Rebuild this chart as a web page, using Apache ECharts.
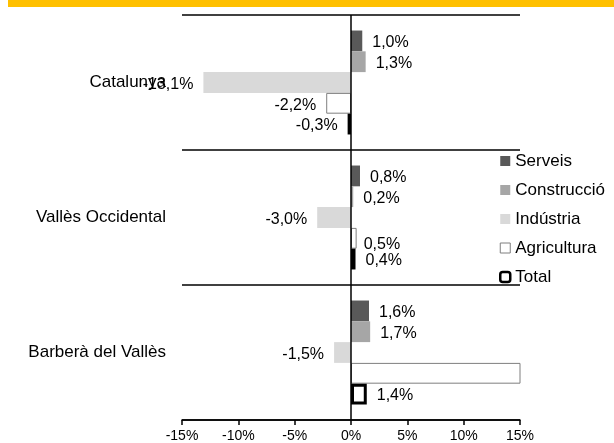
<!DOCTYPE html>
<html>
<head>
<meta charset="utf-8">
<script src="https://cdn.jsdelivr.net/npm/echarts@6/dist/echarts.min.js"></script>
<style>
  html, body { margin: 0; padding: 0; background: #fff; }
  #chartRoot { width: 614px; height: 443px; }
</style>
</head>
<body>
<div id="chartRoot"></div>
<script>
const regions = ["Catalunya", "Vallès Occidental", "Barberà del Vallès"];
const sectors = ["Serveis", "Construcció", "Indústria", "Agricultura", "Total"];
// variació (%) per sector, en l'ordre de regions
const serveis = [1.0, 0.8, 1.6];
const construccio = [1.3, 0.2, 1.7];
const industria = [-13.1, -3.0, -1.5];
const agricultura = [-2.2, 0.5, 24.0]; // Barberà queda fora d'escala
const total = [-0.3, 0.4, 1.4];
const xTicks = [-15, -10, -5, 0, 5, 10, 15];

const sectorValues = [serveis, construccio, industria, agricultura, total];
const sectorStyles = [
  { color: "#595959" },
  { color: "#a6a6a6" },
  { color: "#d9d9d9" },
  { color: "#ffffff", borderColor: "#7f7f7f", borderWidth: 1 },
  { color: "#ffffff", borderColor: "#000000", borderWidth: 3 },
];

const fmt = (v) => v.toFixed(1).replace(".", ",") + "%";
const xMin = xTicks[0];
const xMax = xTicks[xTicks.length - 1];

const chartDom = document.getElementById("chartRoot");
const myChart = echarts.init(chartDom, null, { renderer: "canvas" });

const series = sectors.map((name, i) => {
  const data = sectorValues[i].map((v, j) => {
    const item = {
      value: v,
      label: { position: v < 0 ? "left" : "right" },
    };
    if (v > xMax || v < xMin) {
      item.label.show = false;
    }
    // etiqueta desplaçada per no trepitjar la del total (Vallès)
    if (i === 3 && j === 1) {
      item.label.offset = [-3, 6];
    }
    return item;
  });
  const s = {
    name: name,
    type: "bar",
    barGap: "0%",
    barCategoryGap: "23%",
    data: data,
    itemStyle: sectorStyles[i],
    label: {
      show: true,
      distance: 10,
      offset: [0, 2],
      color: "#000",
      fontSize: 16,
      formatter: (p) => fmt(p.value),
    },
    emphasis: { disabled: true },
  };
  if (i === sectors.length - 1) {
    // línia vertical del zero
    s.markLine = {
      silent: true,
      symbol: "none",
      label: { show: false },
      lineStyle: { color: "#000", type: "solid", width: 1.5 },
      data: [{ xAxis: 0 }],
    };
  }
  return s;
});

const option = {
  animation: false,
  backgroundColor: "#fff",
  textStyle: { fontFamily: "Liberation Sans, Arial, sans-serif" },
  graphic: [
    {
      type: "rect",
      shape: { x: 8, y: 0, width: 606, height: 7 },
      style: { fill: "#ffc000" },
      silent: true,
    },
  ],
  grid: {
    left: 182,
    right: 94,
    top: 15,
    bottom: 23,
    containLabel: false,
  },
  legend: {
    orient: "vertical",
    left: 499,
    top: 152,
    padding: 0,
    itemGap: 11,
    itemWidth: 10,
    itemHeight: 10,
    icon: "rect",
    textStyle: { fontSize: 17, color: "#000", lineHeight: 18 },
    data: sectors.map((name, i) => ({
      name: name,
      icon: i === 4 ? "roundRect" : "rect",
      itemStyle: Object.assign({ borderWidth: 0 }, sectorStyles[i], i === 4 ? { borderWidth: 2.5 } : {}),
    })),
  },
  xAxis: {
    type: "value",
    min: xMin,
    max: xMax,
    interval: xTicks[1] - xTicks[0],
    axisLine: { show: true, lineStyle: { color: "#000", width: 1.5 } },
    axisTick: { show: true, length: 5, lineStyle: { color: "#000", width: 1.5 } },
    splitLine: { show: false },
    axisLabel: {
      color: "#000",
      fontSize: 14,
      margin: 9,
      formatter: (v) => v + "%",
    },
  },
  yAxis: {
    type: "category",
    inverse: true,
    data: regions,
    axisLine: { show: false },
    axisTick: { show: false },
    splitLine: { show: true, lineStyle: { color: "#000", width: 1.5 } },
    axisLabel: {
      color: "#000",
      fontSize: 17,
      margin: 16,
    },
  },
  series: series,
};

myChart.setOption(option);
</script>
</body>
</html>
